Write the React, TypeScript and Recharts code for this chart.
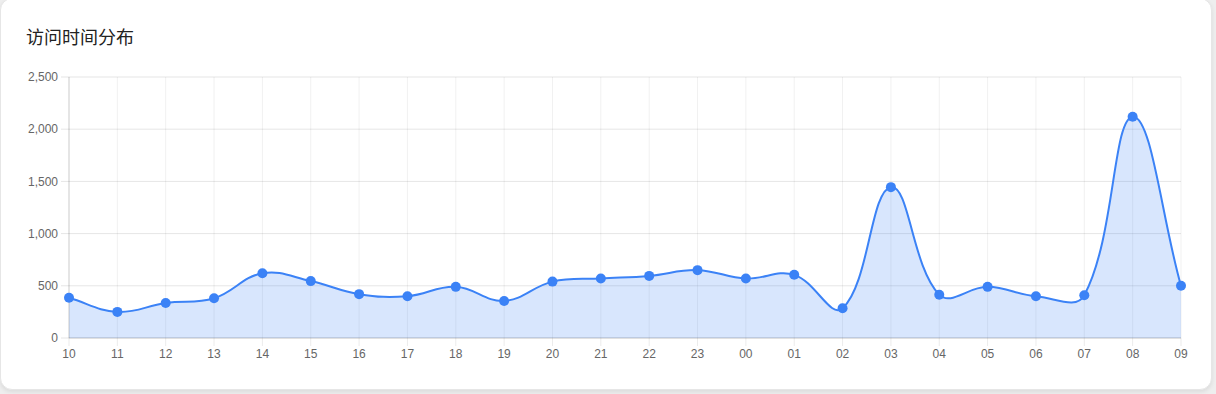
import React from 'react';
import { AreaChart, Area, XAxis, YAxis, CartesianGrid } from 'recharts';

const hours = ['10','11','12','13','14','15','16','17','18','19','20','21','22','23','00','01','02','03','04','05','06','07','08','09'];
const visits = [385, 250, 335, 380, 620, 545, 420, 400, 490, 355, 540, 570, 595, 650, 570, 605, 285, 1445, 415, 490, 400, 410, 2120, 500];
const yTicks = [0, 500, 1000, 1500, 2000, 2500];
const title = '访问时间分布';

const data = hours.map((h, i) => ({ hour: h, value: visits[i] }));

// Chart.js-like spline (tension 0.4) as a d3 curve factory
function chartJsCurve(context: any) {
  let pts: number[][] = [];
  let line: number = NaN;
  const t = 0.4;
  return {
    areaStart() { line = 0; },
    areaEnd() { line = NaN; },
    lineStart() { pts = []; },
    point(x: number, y: number) { pts.push([+x, +y]); },
    lineEnd() {
      const n = pts.length;
      if (n) {
        if (line) context.lineTo(pts[0][0], pts[0][1]);
        else context.moveTo(pts[0][0], pts[0][1]);
        const cpPrev: number[][] = [];
        const cpNext: number[][] = [];
        for (let i = 0; i < n; i++) {
          const cur = pts[i];
          const prev = pts[i - 1] || cur;
          const next = pts[i + 1] || cur;
          const d01 = Math.hypot(cur[0] - prev[0], cur[1] - prev[1]);
          const d12 = Math.hypot(next[0] - cur[0], next[1] - cur[1]);
          let s01 = d01 / (d01 + d12);
          let s12 = d12 / (d01 + d12);
          if (!isFinite(s01)) s01 = 0;
          if (!isFinite(s12)) s12 = 0;
          const fa = t * s01;
          const fb = t * s12;
          cpPrev.push([cur[0] - fa * (next[0] - prev[0]), cur[1] - fa * (next[1] - prev[1])]);
          cpNext.push([cur[0] + fb * (next[0] - prev[0]), cur[1] + fb * (next[1] - prev[1])]);
        }
        for (let i = 0; i < n - 1; i++) {
          context.bezierCurveTo(cpNext[i][0], cpNext[i][1], cpPrev[i + 1][0], cpPrev[i + 1][1], pts[i + 1][0], pts[i + 1][1]);
        }
      }
      if (line || (line !== 0 && n === 1)) context.closePath();
      line = 1 - line;
    },
  };
}

const tickFont = { fontFamily: '"Liberation Sans", Arial, sans-serif', fontSize: 12, fill: '#666' };

export default function App() {
  return (
    <div style={{ position: 'fixed', left: 0, top: 0, width: 1216, height: 394, background: '#eeeeee', overflow: 'hidden' }}>
      <div
        style={{
          position: 'absolute', left: 0, top: -2, width: 1212, height: 392,
          background: '#ffffff', borderRadius: 12, border: '1px solid #e6e6e6',
          boxShadow: '0 2px 4px rgba(0,0,0,0.08)', boxSizing: 'border-box',
        }}
      />
      <div
        style={{
          position: 'absolute', left: 26, top: 25, fontSize: 18, lineHeight: '22px', color: '#222',
          fontFamily: '"Noto Sans CJK SC", "Noto Sans", sans-serif',
        }}
      >
        {title}
      </div>
      <div style={{ position: 'absolute', left: 0, top: 60 }}>
        <AreaChart width={1213} height={320} data={data} margin={{ top: 17, right: 32, bottom: 12, left: 0 }}>
          <CartesianGrid stroke="rgba(0,0,0,0.06)" vertical={true} horizontal={false} />
          <CartesianGrid stroke="rgba(0,0,0,0.1)" vertical={false} horizontal={true} />
          <XAxis
            dataKey="hour"
            scale="point"
            padding={{ left: 0, right: 0 }}
            interval={0}
            tick={tickFont}
            tickSize={8}
            tickMargin={3}
            tickLine={{ stroke: 'rgba(0,0,0,0.08)' }}
            axisLine={{ stroke: 'rgba(0,0,0,0.15)' }}
            height={30}
          />
          <YAxis
            domain={[0, 2500]}
            ticks={yTicks}
            width={69}
            tick={tickFont}
            tickSize={8}
            tickMargin={3}
            tickLine={{ stroke: 'rgba(0,0,0,0.1)' }}
            axisLine={{ stroke: 'rgba(0,0,0,0.15)' }}
            tickFormatter={(v: number) => v.toLocaleString('en-US')}
            allowDataOverflow
          />
          <Area
            type={chartJsCurve as any}
            dataKey="value"
            stroke="#3b82f6"
            strokeWidth={2}
            fill="rgba(59,130,246,0.2)"
            fillOpacity={1}
            dot={{ r: 5, fill: '#3b82f6', stroke: '#3b82f6', strokeWidth: 0 }}
            activeDot={false}
            isAnimationActive={false}
          />
        </AreaChart>
      </div>
    </div>
  );
}
